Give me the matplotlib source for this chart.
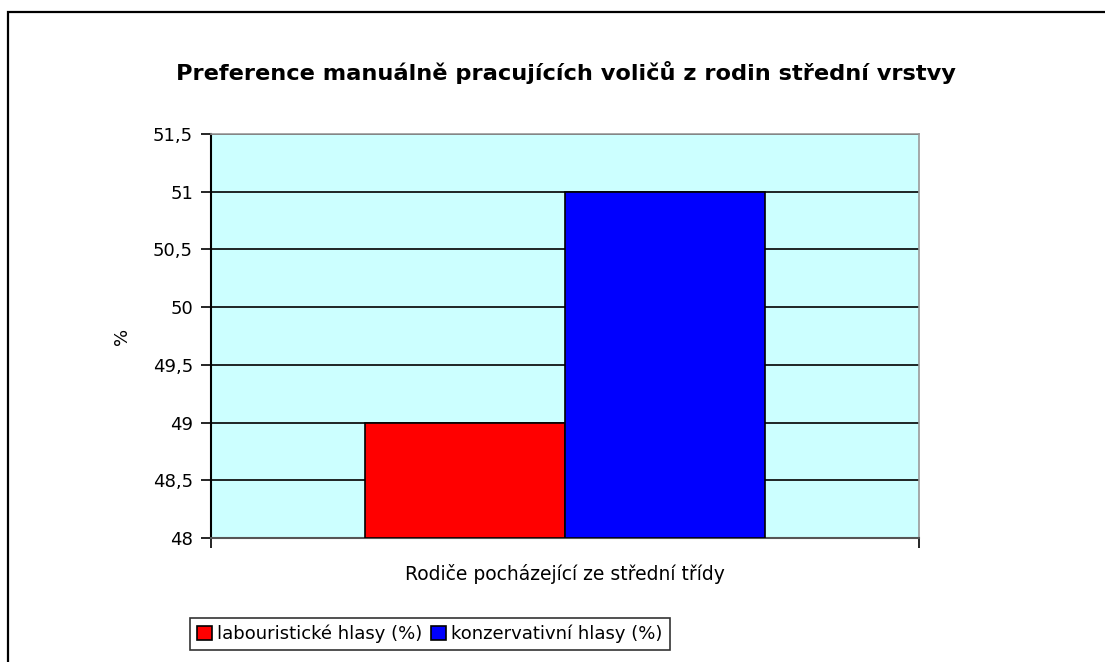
import numpy as np
import matplotlib.pyplot as plt
from matplotlib.patches import Rectangle

plt.rcParams['font.family'] = ['DejaVu Sans']

# data
categories = ['Rodiče pocházející ze střední třídy']
series_names = ['labouristické hlasy (%)', 'konzervativní hlasy (%)']
series_values = [[49], [51]]
series_colors = ['#FF0000', '#0000FF']
yticks = [48, 48.5, 49, 49.5, 50, 50.5, 51, 51.5]
ytick_labels = ['48', '48,5', '49', '49,5', '50', '50,5', '51', '51,5']

fs = 13

fig = plt.figure(figsize=(11.05, 6.62), dpi=100)
ax = fig.add_axes([0.1910, 0.1873, 0.6407, 0.6103])
ax.set_facecolor('#CCFFFF')

# outer chart border
fig.patches.append(Rectangle((8 / 1105, -0.05), 1.1, 1 - 12 / 662 + 0.05,
                             transform=fig.transFigure, fill=False,
                             edgecolor='black', linewidth=1.6, zorder=0))

x = np.arange(len(categories))
bar_w = 0.2825
offsets = [-bar_w / 2, bar_w / 2]
for vals, name, col, off in zip(series_values, series_names, series_colors, offsets):
    ax.bar(x + off, np.array(vals) - 48, bottom=48, width=bar_w, color=col,
           edgecolor='black', linewidth=1.2, label=name, zorder=3)

ax.set_xlim(-0.5, len(categories) - 0.5)
ax.set_ylim(48, 51.5)
ax.set_yticks(yticks)
ax.set_yticklabels(ytick_labels, fontsize=fs)
ax.yaxis.grid(True, color='black', linewidth=1.2, zorder=1)
ax.set_axisbelow(True)

# x axis: category label, boundary ticks
ax.set_xticks([-0.5, 0.5])
ax.set_xticklabels([])
ax.tick_params(axis='x', direction='out', length=7, width=1.2, color='black')
ax.tick_params(axis='y', direction='out', length=7, width=1.2, color='black', pad=6)
ax.text(0, -0.09, categories[0], transform=ax.get_xaxis_transform(),
        ha='center', va='center', fontsize=13.5)

ax.set_ylabel('%', fontsize=fs, labelpad=16)

for s in ['top', 'right']:
    ax.spines[s].set_color('#999999')
    ax.spines[s].set_linewidth(1.2)
ax.spines['left'].set_color('black')
ax.spines['left'].set_linewidth(1.5)
ax.spines['bottom'].set_color('#555555')
ax.spines['bottom'].set_linewidth(1.5)

fig.text(566 / 1105, 1 - 72 / 662, 'Preference manuálně pracujících voličů z rodin střední vrstvy',
         ha='center', va='center', fontsize=16.2, fontweight='bold')

leg = fig.legend(loc='center left', bbox_to_anchor=(190 / 1105, 1 - 634 / 662),
                 ncol=2, fontsize=fs, frameon=True, fancybox=False,
                 handlelength=0.8, handleheight=0.8, handletextpad=0.3,
                 columnspacing=0.5, borderpad=0.4, borderaxespad=0)
leg.get_frame().set_edgecolor('black')
leg.get_frame().set_linewidth(1.2)

fig.savefig('out.png', dpi=100)
